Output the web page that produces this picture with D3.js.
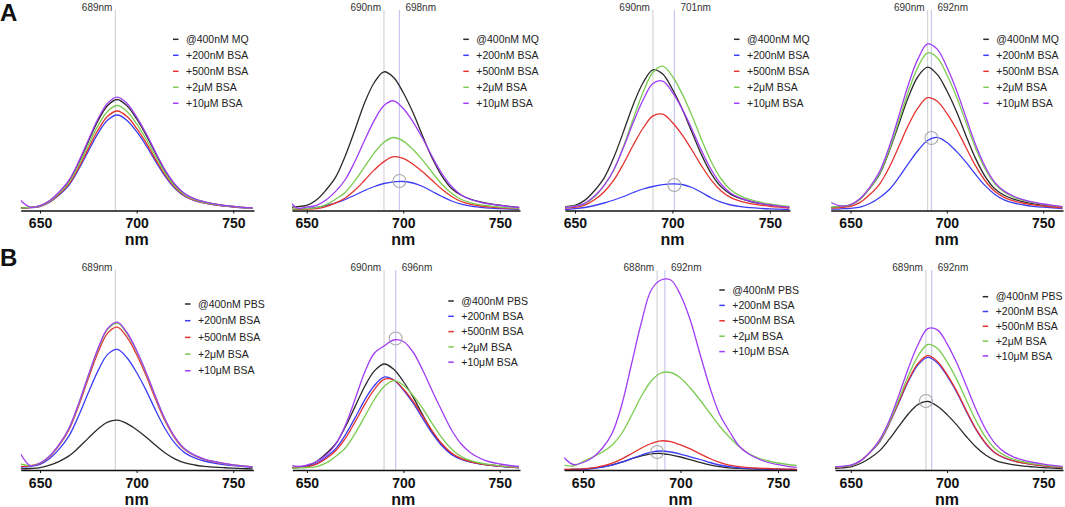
<!DOCTYPE html>
<html>
<head>
<meta charset="utf-8">
<title>Emission spectra with BSA</title>
<script src="https://cdnjs.cloudflare.com/ajax/libs/d3/7.8.5/d3.min.js"></script>
<style>
  body { margin: 0; background: #fff; }
  svg { display: block; font-family: "Liberation Sans", Arial, sans-serif; }
  .curve { fill: none; stroke-width: 1.3px; }
  .axis .domain { stroke: #111; stroke-width: 1.6px; }
  .axis .tick line { stroke: #111; stroke-width: 1px; }
  .axis .tick text { font-size: 14px; font-weight: bold; fill: #111; }
</style>
</head>
<body>
<script>
// wavelength grid (nm) shared by every spectrum
const wavelengths = [640, 645, 650, 655, 660, 665, 670, 675, 680, 685, 690, 695, 700,
  705, 710, 715, 720, 725, 730, 735, 740, 745, 750, 755, 760];

const namesMQ = ['@400nM MQ', '+200nM BSA', '+500nM BSA', '+2μM BSA', '+10μM BSA'];
const namesPBS = ['@400nM PBS', '+200nM BSA', '+500nM BSA', '+2μM BSA', '+10μM BSA'];
const colors = ['#2a2a2a', '#3c3cf6', '#e5322f', '#7bcb50', '#a03cf5'];
const xTicks = [650, 700, 750];

// intensities (a.u.), order: @400nM, +200nM, +500nM, +2μM, +10μM
const seriesA1 = [
  [2.5,3.2,4.7,9.8,18.4,29.7,47.8,69,89.7,105,111,104.6,91.5,75,56.2,38.7,25.3,16.2,11.4,8.5,6.5,5.1,4,3.2,2.4],
  [2.2,2.8,4,8.4,15.8,25.5,41.2,59.4,77.2,90.4,95.5,90.1,78.8,64.6,48.4,33.4,21.7,14,9.8,7.3,5.6,4.4,3.5,2.7,2.1],
  [2.3,2.9,4.2,8.8,16.5,26.6,42.9,61.9,80.5,94.2,99.5,93.9,82.1,67.3,50.4,34.8,22.7,14.6,10.2,7.6,5.9,4.6,3.6,2.8,2.2],
  [2.4,3.1,4.4,9.2,17.4,28.1,45.3,65.3,84.9,99.3,105,99,86.6,71,53.2,36.7,23.9,15.4,10.8,8,6.2,4.9,3.8,3,2.3],
  [10,3.3,4.8,10,18.8,30.3,48.9,70.6,91.7,107.3,113.4,107,93.5,76.7,57.5,39.6,25.8,16.6,11.7,8.7,6.7,5.2,4.1,3.2,2.5]
];
const seriesA2 = [
  [3,3.8,5.1,10.5,20.5,33.4,54.8,80.8,107.8,128,138.7,133,117.7,97.9,74.6,52.3,34.4,22,15.2,11.2,8.6,6.7,5.3,4.1,3.2],
  [1,1.3,2,3,5,7.5,11,15.5,20,24,27,28.7,29,27.5,24,19,14,9.5,6.3,4.3,3.2,2.4,1.9,1.5,1.2],
  [0.9,1.1,1.4,1.9,3.9,7.6,12.5,20.4,30.3,40.6,48.9,53.8,52.1,46.3,38.8,29.9,21.2,14,9,6.2,4.5,3.4,2.7,2.1,1.7],
  [1.3,1.6,2,2.8,5.8,11.3,18.3,29.9,43.8,57.7,68.3,73,69.4,61,50.4,38,26.3,17.2,11,7.7,5.7,4.4,3.4,2.7,2.1],
  [12,2.6,3.3,5.1,10.5,19.1,31,49.3,70.2,90.1,105,109.7,102,88.7,72.2,53.7,36.9,24,15.5,11,8.2,6.3,5,3.9,3]
];
const seriesA3 = [
  [3,3.8,5.1,10.1,19.8,32.6,53.4,79.4,106.3,128,140.7,136.4,121.2,101.6,78.3,55.4,36.7,23.6,16.1,11.8,9,7,5.5,4.3,3.3],
  [0.5,1,1.8,3,5,7.5,10.5,14,18,21.5,24,25.8,26.6,26,23,18,12.5,8.3,5.5,3.8,2.8,2.1,1.6,1.3,1],
  [1.9,2.4,3.1,5.3,10.7,18.8,30.6,47.3,65.8,82.5,94.6,96.3,88,75.6,60.5,44.4,30.2,19.6,12.8,9.2,6.9,5.3,4.2,3.3,2.5],
  [2.7,3.4,4.3,6.7,13.7,25.2,40.8,64.8,92.3,118.5,138.2,144.3,134.1,116.6,94.9,70.6,48.5,31.5,20.4,14.4,10.8,8.3,6.5,5.1,4],
  [2.6,3.2,4.2,7.2,14.4,25.2,41,63.5,88.4,110.8,127,129.4,118.2,101.6,81.3,59.6,40.5,26.3,17.3,12.3,9.3,7.2,5.6,4.4,3.4]
];
const seriesA4 = [
  [3.2,4,5.4,11.5,22.2,35.8,58.8,86,113.2,134,143.3,136.1,119.7,98.9,74.5,51.6,33.7,21.5,15,11.2,8.6,6.7,5.3,4.2,3.2],
  [1.4,1.7,2.2,3.4,7,12.8,20.7,32.8,46.8,60,70,73.1,68,59.1,48.1,35.8,24.6,16,10.3,7.3,5.5,4.2,3.3,2.6,2],
  [2.4,3,4.1,8.1,15.9,26.2,42.8,63.7,85.2,102.6,112.8,109.3,97.2,81.5,62.8,44.4,29.5,18.9,12.9,9.4,7.2,5.6,4.4,3.5,2.7],
  [3.4,4.2,5.7,11.3,22.2,36.6,59.8,89,119,143.4,157.7,152.8,135.8,113.8,87.7,62.1,41.2,26.4,18,13.2,10.1,7.9,6.2,4.8,3.7],
  [8,4.5,6,12,23.4,38.6,63.2,94,125.8,151.6,166.6,161.4,143.5,120.3,92.7,65.6,43.5,27.9,19.1,14,10.6,8.3,6.5,5.1,3.9]
];
const seriesB1 = [
  [1.2,1.5,2.3,4.8,8.7,14.1,22.4,31.9,41,47.8,49.9,46.4,40.3,32.8,24.4,16.8,10.9,7.1,5,3.7,2.9,2.3,1.8,1.4,1.1],
  [2.8,3.6,5.6,11.5,21.1,34.1,54.2,77.2,99.1,115.6,120.6,112.2,97.5,79.4,59,40.5,26.4,17.1,12.1,9,6.9,5.4,4.3,3.3,2.5],
  [3.3,4.3,6.6,13.6,24.9,40.4,64.2,91.4,117.4,136.9,142.9,132.8,115.5,94,69.9,48,31.2,20.2,14.3,10.7,8.2,6.4,5.1,4,3],
  [6,4.4,6.8,14,25.6,41.5,66,94,120.6,140.7,146.9,136.5,118.7,96.6,71.9,49.3,32.1,20.8,14.7,11,8.5,6.6,5.2,4.1,3.1],
  [16,4.4,6.9,14.1,25.8,41.8,66.4,94.6,121.5,141.6,147.9,137.5,119.5,97.3,72.4,49.7,32.3,20.9,14.8,11,8.5,6.7,5.2,4.1,3.1]
];
const seriesB2 = [
  [2.3,3,4,8.5,16.4,26.5,43.5,63.6,83.7,99.1,106,100.7,88.5,73.1,55.1,38.2,24.9,15.9,11.1,8.3,6.4,5,3.9,3.1,2.3],
  [2,2.5,3.4,6.7,13.1,21.6,35.3,52.4,70.2,84.5,92.9,90,80,67.1,51.7,36.6,24.3,15.6,10.6,7.8,5.9,4.6,3.6,2.9,2.2],
  [1.9,2.4,3.1,5.8,11.5,19.5,31.8,48.2,65.7,80.7,90.7,90,81,68.8,54.1,39,26.2,16.9,11.3,8.2,6.2,4.8,3.8,3,2.3],
  [1.6,2,2.5,3.4,7.1,13.8,22.3,36.6,53.6,70.5,83.5,89.3,84.8,74.6,61.6,46.4,32.1,21,13.4,9.4,7,5.4,4.2,3.3,2.6],
  [6,3.5,5,8.5,15,26,45,71,98,117,124,130,128.5,118,100,79,59,40,26,17,11.5,8,6,4.5,3.5]
];
const seriesB3 = [
  [0.4,0.5,0.9,1.8,3.2,5.2,8.1,11.3,14.2,16.2,16.5,15.1,13,10.4,7.6,5.2,3.4,2.2,1.6,1.2,0.9,0.7,0.6,0.4,0.3],
  [0.4,0.5,0.7,1.5,2.9,4.8,7.8,11.4,15,17.8,19,18,15.9,13.1,10.5,7.5,5,3.3,2.2,1.6,1.2,0.9,0.7,0.6,0.4],
  [0.6,0.8,1.1,2.1,4.1,6.8,11.1,16.5,22,26.5,29.2,28.3,25.1,21.1,16.2,11.5,7.6,4.9,3.3,2.4,1.9,1.5,1.1,0.9,0.7],
  [5,4,8.5,13,18,25,37,55,74,89,97,97.5,92,82,70,57,44,33,23.5,16.5,12,9,7,5.5,4.5],
  [13,5.5,7.5,12.5,22,37,66,107,148,180,190,190,175,150,116,83,56,39,24,16,11,7.5,5.3,3.7,2.5]
];
const seriesB4 = [
  [1.6,2.1,3.2,6.5,12,19.4,30.8,43.8,56.3,65.6,68.5,63.7,55.4,45.1,33.5,23,15,9.7,6.8,5.1,3.9,3.1,2.4,1.9,1.4],
  [2.5,3.2,4.3,9,17.5,28.2,46.2,67.6,89,105.4,112.7,107.1,94.1,77.8,58.6,40.6,26.5,16.9,11.8,8.8,6.8,5.3,4.2,3.3,2.5],
  [2.5,3.2,4.3,9.1,17.7,28.6,46.9,68.6,90.3,106.9,114.3,108.6,95.4,78.9,59.4,41.1,26.9,17.1,12,8.9,6.9,5.4,4.2,3.3,2.5],
  [2.7,3.4,4.5,9,17.6,29.1,47.6,70.8,94.8,114.2,125.5,121.6,108.1,90.6,69.8,49.4,32.8,21,14.4,10.5,8,6.2,4.9,3.9,2.9],
  [2.9,3.7,4.9,9.1,17.9,30.4,49.6,75.1,102.3,125.7,141.3,140.1,126.2,107.2,84.3,60.8,40.8,26.4,17.6,12.7,9.6,7.5,5.9,4.6,3.6]
];

// peak wavelengths marked by vertical lines
const peaksA = [[689], [690, 698], [690, 701], [690, 692]];
const peaksB = [[689], [690, 696], [688, 692], [689, 692]];
// circled points [nm, intensity]
const marksA = [null, [698, 29.5], [701, 25.5], [692, 72.5]];
const marksB = [null, [696, 131.5], [688, 18], [689, 69]];

const rows = [
  { letter: 'A', names: namesMQ, series: [seriesA1, seriesA2, seriesA3, seriesA4], peaks: peaksA, marks: marksA,
    base: 210.5, top: 10, letterY: 20.5,
    frames: [
      { range: [20.7, 254], domain: [640, 760.7], legend: [173, 39.3, 16] },
      { range: [292, 520], domain: [642.4, 760.4], legend: [463.3, 39.3, 16] },
      { range: [565, 790], domain: [644.9, 760.3], legend: [734, 39.3, 16] },
      { range: [830.7, 1063], domain: [639.7, 760.3], legend: [983.3, 39.3, 16] }
    ] },
  { letter: 'B', names: namesPBS, series: [seriesB1, seriesB2, seriesB3, seriesB4], peaks: peaksB, marks: marksB,
    base: 470, top: 270, letterY: 266,
    frames: [
      { range: [20.7, 253.3], domain: [640, 760.4], legend: [185, 304, 16.7] },
      { range: [292.3, 520], domain: [642.4, 760.5], legend: [448.3, 301, 15.3] },
      { range: [564.3, 796.7], domain: [640.4, 759.6], legend: [719.3, 290, 15.4] },
      { range: [835, 1063], domain: [641.8, 760.2], legend: [982.7, 296.7, 14.8] }
    ] }
];

const svg = d3.select('body').append('svg')
  .attr('width', 1065)
  .attr('height', 507);

rows.forEach((row, r) => {
  svg.append('text')
    .attr('x', 0).attr('y', row.letterY)
    .attr('font-size', 24).attr('font-weight', 'bold').attr('fill', '#111')
    .text(row.letter);

  row.frames.forEach((f, p) => {
    const x = d3.scaleLinear().domain(f.domain).range(f.range);
    const y = d3.scaleLinear().domain([0, 200]).range([row.base, row.base - 200]);
    const g = svg.append('g');
    const clipId = 'clip-' + r + '-' + p;

    g.append('clipPath').attr('id', clipId)
      .append('rect')
      .attr('x', f.range[0]).attr('y', 0)
      .attr('width', f.range[1] - f.range[0]).attr('height', row.base + 1);

    // peak markers
    const peaks = row.peaks[p];
    peaks.forEach((nm, i) => {
      g.append('line')
        .attr('x1', x(nm)).attr('x2', x(nm))
        .attr('y1', row.top).attr('y2', row.base)
        .attr('stroke', i === 0 ? '#d3d3da' : '#c7c7ef')
        .attr('stroke-width', 1.2);
      g.append('text')
        .attr('x', i === 0 ? x(nm) - 3 : x(nm) + 6)
        .attr('y', row.top + 0.5)
        .attr('text-anchor', i === 0 ? 'end' : 'start')
        .attr('font-size', 10).attr('fill', '#333')
        .text(nm + 'nm');
    });

    const line = d3.line()
      .x((d, i) => x(wavelengths[i]))
      .y(d => y(d))
      .curve(d3.curveCatmullRom.alpha(0.5));

    g.append('g').attr('clip-path', 'url(#' + clipId + ')')
      .selectAll('path')
      .data(row.series[p])
      .enter().append('path')
      .attr('class', 'curve')
      .attr('stroke', (d, i) => colors[i])
      .attr('d', line);

    const mark = row.marks[p];
    if (mark) {
      g.append('circle')
        .attr('cx', x(mark[0])).attr('cy', y(mark[1]))
        .attr('r', 6.5)
        .attr('fill', 'none').attr('stroke', '#a8a8a8').attr('stroke-width', 1.1);
    }

    const axis = d3.axisBottom(x).tickValues(xTicks).tickSize(3).tickSizeOuter(0).tickPadding(5);
    g.append('g').attr('class', 'axis')
      .attr('transform', 'translate(0,' + row.base + ')')
      .call(axis);

    g.append('text')
      .attr('x', x(700)).attr('y', row.base + 34.5)
      .attr('text-anchor', 'middle')
      .attr('font-size', 16).attr('font-weight', 'bold').attr('fill', '#111')
      .text('nm');

    // legend
    const [lx, ly, step] = f.legend;
    const items = g.append('g').selectAll('g')
      .data(row.names)
      .enter().append('g')
      .attr('transform', (d, i) => 'translate(' + lx + ',' + (ly + i * step) + ')');
    items.append('line')
      .attr('x1', 0).attr('x2', 5.5)
      .attr('stroke', (d, i) => colors[i]).attr('stroke-width', 1.5);
    items.append('text')
      .attr('x', 13).attr('dy', '0.35em')
      .attr('font-size', 10.5).attr('fill', '#222')
      .text(d => d);
  });
});
</script>
</body>
</html>
